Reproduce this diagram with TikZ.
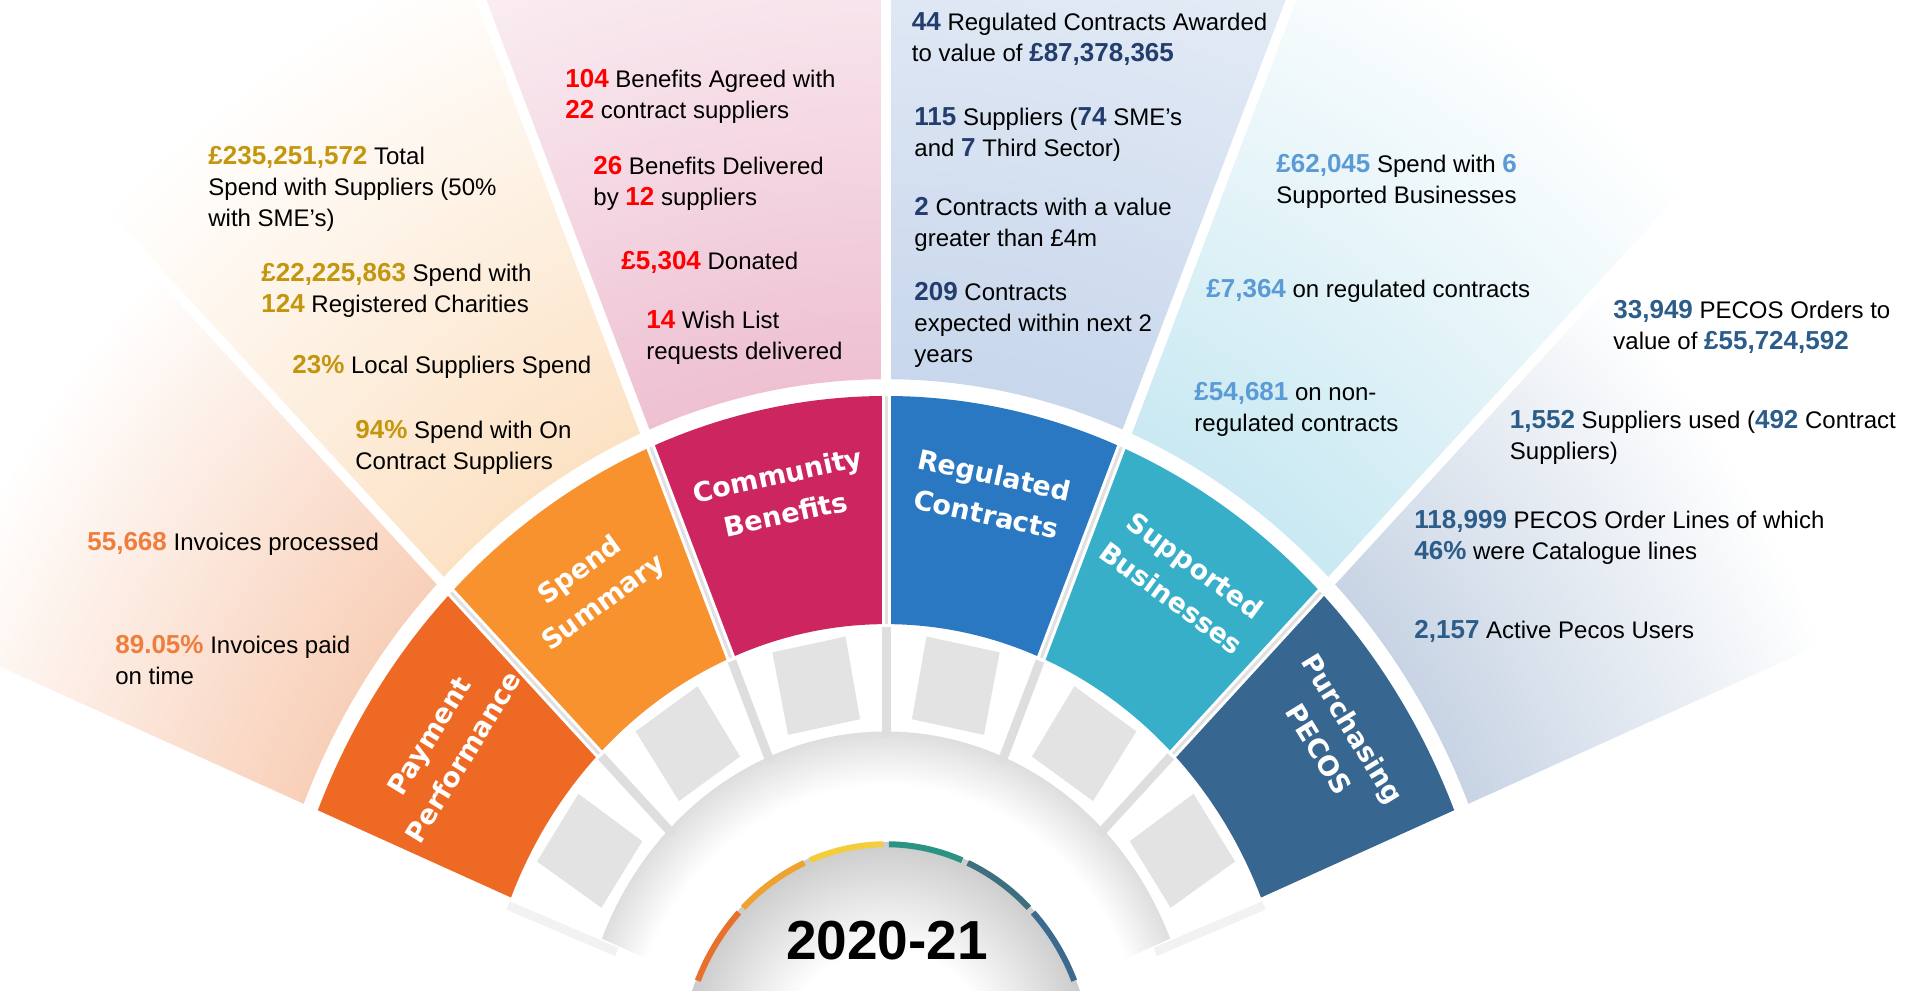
\documentclass[tikz,border=0pt]{standalone}
\usepackage{fontspec}
\setmainfont{Liberation Sans}
\newfontfamily\ringfont{DejaVu Sans}
\usepackage{xcolor}

% segment colours
\definecolor{ppcol}{HTML}{EE6A24}
\definecolor{spcol}{HTML}{F7922E}
\definecolor{cbcol}{HTML}{CD2560}
\definecolor{rccol}{HTML}{2B78C2}
\definecolor{sbcol}{HTML}{38AFC9}
\definecolor{pccol}{HTML}{376690}
% number colours
\definecolor{ppnum}{HTML}{EF7D3C}
\definecolor{spnum}{HTML}{C4960E}
\definecolor{cbnum}{HTML}{FF0000}
\definecolor{rcnum}{HTML}{233E6E}
\definecolor{sbnum}{HTML}{5B9BD5}
\definecolor{pcnum}{HTML}{2B5C8A}
% wedge tints
\definecolor{ppfade}{RGB}{238,134,74}
\definecolor{spfade}{RGB}{248,188,120}
\definecolor{cbfade}{RGB}{220,126,163}
\definecolor{rcfade}{RGB}{159,185,222}
\definecolor{sbfade}{RGB}{135,205,226}
\definecolor{pcfade}{RGB}{110,142,183}
% year arc colours
\definecolor{yrA}{HTML}{E8702A}
\definecolor{yrB}{HTML}{EFA22F}
\definecolor{yrC}{HTML}{F2CE3C}
\definecolor{yrD}{HTML}{2A9383}
\definecolor{yrE}{HTML}{3D6F7F}
\definecolor{yrF}{HTML}{3C6A8E}

\pgfdeclareradialshading{rimfade}{\pgfpoint{0bp}{0bp}}{color(0bp)=(white); color(21bp)=(white); color(25bp)=(black!13); color(50bp)=(black!13)}
\pgfdeclareradialshading{domefade}{\pgfpoint{0bp}{0bp}}{color(0bp)=(white); color(13bp)=(white); color(25bp)=(black!20); color(50bp)=(black!20)}

\newcommand{\statnum}[2]{{\color{#1}\bfseries\fontsize{13}{15.5}\selectfont #2}}

\begin{document}
\begin{tikzpicture}[x=0.5pt, y=0.5pt,
    info/.style={anchor=base west, align=left, inner sep=0pt, font=\fontsize{12}{15.5}\selectfont},
    seglabel/.style={text=white, align=center, inner sep=0pt, font=\ringfont\bfseries\fontsize{13.5}{20}\selectfont},
    gapline/.style={white, line width=5pt},
    ringgap/.style={white, line width=4.5pt},
    ringline/.style={black!12, line width=1.5pt},
    bandline/.style={black!13, line width=4.5pt},
    tile/.style={fill=black!11},
    yrseg/.style={line width=3pt}]

    \useasboundingbox (0,0) rectangle (1914,990);
    \clip (0,0) rectangle (1914,990);
    \coordinate (fanC) at (886,-77);

    \begin{scope}[shift={(fanC)}, x=307.5pt, y=335.5pt]
        % faded wedges behind the ring
        \begin{scope}
            \clip (135:1.025) arc[start angle=135, end angle=157.5, radius=1.025] -- (157.5:3) -- (135:3) -- cycle;
            \shade[inner color=ppfade, outer color=white] (0,0) ellipse[x radius=1.68, y radius=1.68];
        \end{scope}
        \begin{scope}
            \clip (112.5:1.025) arc[start angle=112.5, end angle=135, radius=1.025] -- (135:3) -- (112.5:3) -- cycle;
            \shade[inner color=spfade, outer color=white] (0,0) ellipse[x radius=1.8, y radius=1.8];
        \end{scope}
        \begin{scope}
            \clip (90:1.025) arc[start angle=90, end angle=112.5, radius=1.025] -- (112.5:3) -- (90:3) -- cycle;
            \shade[inner color=cbfade, outer color=white] (0,0) ellipse[x radius=2, y radius=2];
        \end{scope}
        \begin{scope}
            \clip (67.5:1.025) arc[start angle=67.5, end angle=90, radius=1.025] -- (90:3) -- (67.5:3) -- cycle;
            \shade[inner color=rcfade, outer color=white] (0,0) ellipse[x radius=2.4, y radius=2.4];
        \end{scope}
        \begin{scope}
            \clip (45:1.025) arc[start angle=45, end angle=67.5, radius=1.025] -- (67.5:3) -- (45:3) -- cycle;
            \shade[inner color=sbfade, outer color=white] (0,0) ellipse[x radius=1.85, y radius=1.85];
        \end{scope}
        \begin{scope}
            \clip (22.5:1.025) arc[start angle=22.5, end angle=45, radius=1.025] -- (45:3) -- (22.5:3) -- cycle;
            \shade[inner color=pcfade, outer color=white] (0,0) ellipse[x radius=1.65, y radius=1.65];
        \end{scope}

        % white cuts between wedges
        \draw[gapline] (135:1) -- (135:3);
        \draw[gapline] (112.5:1) -- (112.5:3);
        \draw[gapline] (90:1) -- (90:3);
        \draw[gapline] (67.5:1) -- (67.5:3);
        \draw[gapline] (45:1) -- (45:3);

        % shadow under the band, grey dome
        \begin{scope}
            \clip (0,0) -- (22.5:0.5) arc[start angle=22.5, end angle=157.5, radius=0.5] -- cycle;
            \shade[shading=rimfade] (0,0) ellipse[x radius=0.5, y radius=0.5];
        \end{scope}
        \shade[shading=domefade] (0,0) ellipse[x radius=0.335, y radius=0.335];

        % year arc
        \draw[yrseg, yrA] (157.2:0.332) arc[start angle=157.2, end angle=136.1, radius=0.332];
        \draw[yrseg, yrB] (134.4:0.332) arc[start angle=134.4, end angle=113.6, radius=0.332];
        \draw[yrseg, yrC] (111.9:0.332) arc[start angle=111.9, end angle=90.8, radius=0.332];
        \draw[yrseg, yrD] (89.2:0.332) arc[start angle=89.2, end angle=68.1, radius=0.332];
        \draw[yrseg, yrE] (66.4:0.332) arc[start angle=66.4, end angle=45.6, radius=0.332];
        \draw[yrseg, yrF] (43.9:0.332) arc[start angle=43.9, end angle=22.8, radius=0.332];

        % grey tiles in the band
        \fill[tile] (139.65:0.52) -- (152.85:0.52) -- (151.65:0.645) -- (140.85:0.645) -- cycle;
        \fill[tile] (117.15:0.52) -- (130.35:0.52) -- (129.15:0.645) -- (118.35:0.645) -- cycle;
        \fill[tile] (94.65:0.52) -- (107.85:0.52) -- (106.65:0.645) -- (95.85:0.645) -- cycle;
        \fill[tile] (72.15:0.52) -- (85.35:0.52) -- (84.15:0.645) -- (73.35:0.645) -- cycle;
        \fill[tile] (49.65:0.52) -- (62.85:0.52) -- (61.65:0.645) -- (50.85:0.645) -- cycle;
        \fill[tile] (27.15:0.52) -- (40.35:0.52) -- (39.15:0.645) -- (28.35:0.645) -- cycle;

        % band separators
        \draw[bandline] (135:0.49) -- (135:0.66);
        \draw[bandline] (112.5:0.49) -- (112.5:0.66);
        \draw[bandline] (90:0.49) -- (90:0.66);
        \draw[bandline] (67.5:0.49) -- (67.5:0.66);
        \draw[bandline] (45:0.49) -- (45:0.66);
        \draw[bandline, black!5] (158.6:0.47) -- (158.6:0.66);
        \draw[bandline, black!5] (21.4:0.47) -- (21.4:0.66);

        % coloured ring
        \fill[ppcol] (135:0.66) arc[start angle=135, end angle=157.5, radius=0.66] -- (157.5:1) arc[start angle=157.5, end angle=135, radius=1] -- cycle;
        \fill[spcol] (112.5:0.66) arc[start angle=112.5, end angle=135, radius=0.66] -- (135:1) arc[start angle=135, end angle=112.5, radius=1] -- cycle;
        \fill[cbcol] (90:0.66) arc[start angle=90, end angle=112.5, radius=0.66] -- (112.5:1) arc[start angle=112.5, end angle=90, radius=1] -- cycle;
        \fill[rccol] (67.5:0.66) arc[start angle=67.5, end angle=90, radius=0.66] -- (90:1) arc[start angle=90, end angle=67.5, radius=1] -- cycle;
        \fill[sbcol] (45:0.66) arc[start angle=45, end angle=67.5, radius=0.66] -- (67.5:1) arc[start angle=67.5, end angle=45, radius=1] -- cycle;
        \fill[pccol] (22.5:0.66) arc[start angle=22.5, end angle=45, radius=0.66] -- (45:1) arc[start angle=45, end angle=22.5, radius=1] -- cycle;

        % gaps in the ring
        \draw[ringgap] (135:0.655) -- (135:1.005);
        \draw[ringgap] (112.5:0.655) -- (112.5:1.005);
        \draw[ringgap] (90:0.655) -- (90:1.005);
        \draw[ringgap] (67.5:0.655) -- (67.5:1.005);
        \draw[ringgap] (45:0.655) -- (45:1.005);
        \draw[ringline] (135:0.66) -- (135:1);
        \draw[ringline] (112.5:0.66) -- (112.5:1);
        \draw[ringline] (90:0.66) -- (90:1);
        \draw[ringline] (67.5:0.66) -- (67.5:1);
        \draw[ringline] (45:0.66) -- (45:1);

        % ring labels
        \node[seglabel, rotate=58.5] (ppLbl) at (146.25:0.86) {Payment\\Performance};
        \node[seglabel, rotate=36.1] (spLbl) at (123.75:0.86) {Spend\\Summary};
        \node[seglabel, rotate=12.2] (cbLbl) at (101.25:0.87) {Community\\Benefits};
        \node[seglabel, rotate=-12.2] (rcLbl) at (78.75:0.87) {Regulated\\Contracts};
        \node[seglabel, rotate=-36.1] (sbLbl) at (56.25:0.87) {Supported\\Businesses};
        \node[seglabel, rotate=-58.5] (pcLbl) at (33.75:0.88) {Purchasing\\PECOS};
    \end{scope}

    % year
    \node[font=\bfseries\fontsize{27.5}{30}\selectfont] (year) at (887,49) {2020-21};

    % payment performance
    \node[info] (ppA) at (87,439) {\statnum{ppnum}{55,668} Invoices processed};
    \node[info] (ppB) at (115,305.5) {\statnum{ppnum}{89.05\%} Invoices paid\\on time};

    % spend summary
    \node[info] (spA) at (208,763) {\statnum{spnum}{£235,251,572} Total\\Spend with Suppliers (50\%\\with SME’s)};
    \node[info] (spB) at (261,677.4) {\statnum{spnum}{£22,225,863} Spend with\\\statnum{spnum}{124} Registered Charities};
    \node[info] (spC) at (292,616.2) {\statnum{spnum}{23\%} Local Suppliers Spend};
    \node[info] (spD) at (355,520.2) {\statnum{spnum}{94\%} Spend with On\\Contract Suppliers};

    % community benefits
    \node[info] (cbA) at (565,871.2) {\statnum{cbnum}{104} Benefits Agreed with\\\statnum{cbnum}{22} contract suppliers};
    \node[info] (cbB) at (593,784) {\statnum{cbnum}{26} Benefits Delivered\\by \statnum{cbnum}{12} suppliers};
    \node[info] (cbC) at (621,720.4) {\statnum{cbnum}{£5,304} Donated};
    \node[info] (cbD) at (646,630.7) {\statnum{cbnum}{14} Wish List\\requests delivered};

    % regulated contracts
    \node[info] (rcA) at (911.5,928) {\statnum{rcnum}{44} Regulated Contracts Awarded\\to value of \statnum{rcnum}{£87,378,365}};
    \node[info] (rcB) at (914,833.3) {\statnum{rcnum}{115} Suppliers (\statnum{rcnum}{74} SME’s\\and \statnum{rcnum}{7} Third Sector)};
    \node[info] (rcC) at (914,743) {\statnum{rcnum}{2} Contracts with a value\\greater than £4m};
    \node[info] (rcD) at (914,627.4) {\statnum{rcnum}{209} Contracts\\expected within next 2\\years};

    % supported businesses
    \node[info] (sbA) at (1276,786) {\statnum{sbnum}{£62,045} Spend with \statnum{sbnum}{6}\\Supported Businesses};
    \node[info] (sbB) at (1206,692.6) {\statnum{sbnum}{£7,364} on regulated contracts};
    \node[info] (sbC) at (1194,558.7) {\statnum{sbnum}{£54,681} on non-\\regulated contracts};

    % purchasing pecos
    \node[info] (pcA) at (1613,640.8) {\statnum{pcnum}{33,949} PECOS Orders to\\value of \statnum{pcnum}{£55,724,592}};
    \node[info] (pcB) at (1509.5,530.3) {\statnum{pcnum}{1,552} Suppliers used (\statnum{pcnum}{492} Contract\\Suppliers)};
    \node[info] (pcC) at (1414,430) {\statnum{pcnum}{118,999} PECOS Order Lines of which\\\statnum{pcnum}{46\%} were Catalogue lines};
    \node[info] (pcD) at (1414,351.7) {\statnum{pcnum}{2,157} Active Pecos Users};
\end{tikzpicture}
\end{document}
